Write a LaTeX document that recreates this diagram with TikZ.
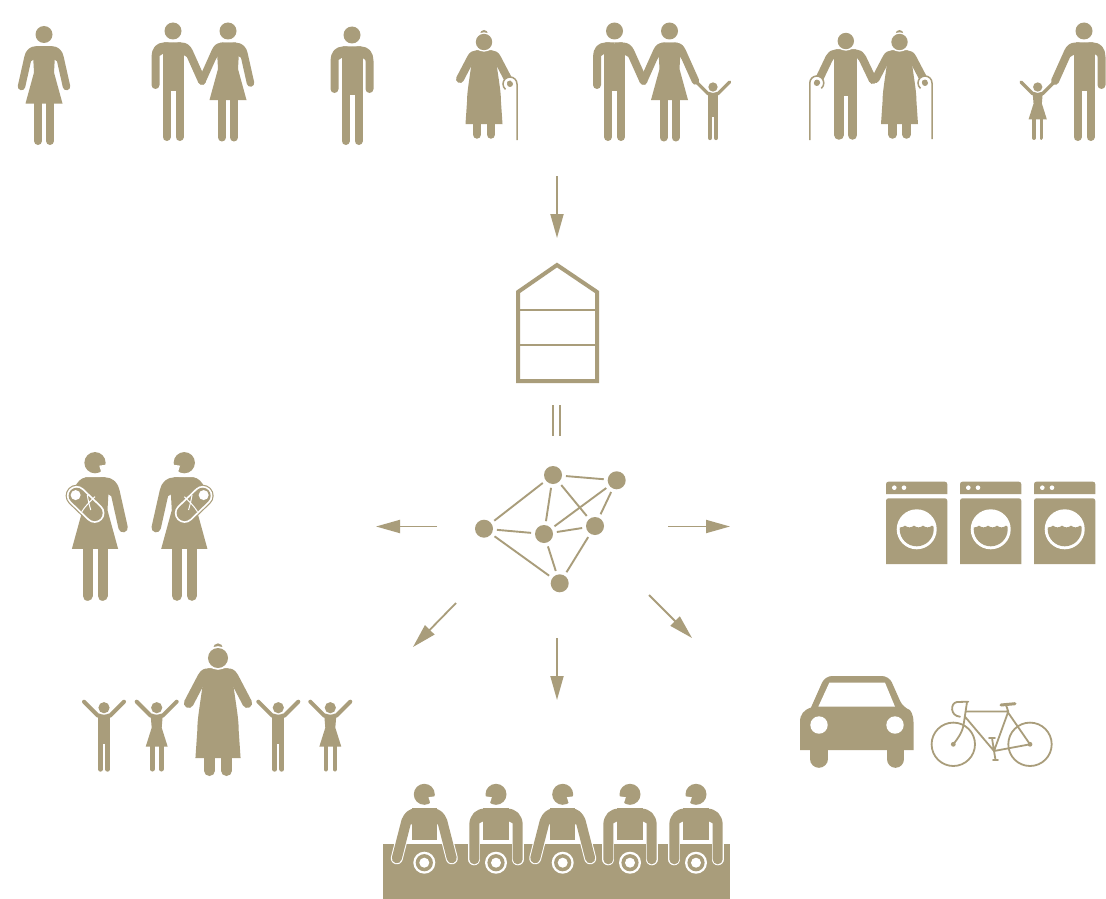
\documentclass[tikz,border=0pt]{standalone}
\usetikzlibrary{arrows.meta}
\definecolor{tn}{HTML}{A99D7B}
\def\fs{1}
\tikzset{
 ink/.style={fill=tn,draw=none},
 limb/.style={draw=tn,line cap=round,line join=round,line width=#1*\fs pt},
 flow/.style={draw=tn,line width=1.8pt,-{Triangle[length=24pt,width=13pt,fill=tn]}},
 netnode/.style={circle,fill=tn,minimum size=18pt,inner sep=0pt,outer sep=0pt},
 netedge/.style={draw=tn,line width=1.9pt,shorten >=4pt,shorten <=4pt},
 bikeline/.style={draw=tn,line width=1.8pt,line cap=round,line join=round},
}
\newcommand\Fig[4]{\begin{scope}[shift={(#1,#2)},scale=#3]\def\fs{#3}#4\end{scope}}
\newcommand\Hd{\fill[ink] (0,0) circle (8.5);}
\newcommand\ManB{\fill[ink] (-10.5,13) rectangle (10.5,60);
 \draw[limb=8] (-6.5,50)--(-6.5,106) (6.5,50)--(6.5,106);}
\newcommand\WomB{\fill[ink] (-8,11.75)--(8,11.75)--(11,20)--(10,38)--(18.5,69)--(-18.5,69)--(-10,38)--(-11,20)--cycle;
 \draw[limb=8] (-6,60)--(-6,106.5) (6,60)--(6,106.5);}
% arms; #1 = side
\newcommand\ArmS[1]{\begin{scope}[xscale=#1]
 \fill[ink] (0,11.5)--(9,11.5)--(17,18)--(13.5,25)--(10.5,23)--(0,23)--cycle;
 \draw[limb=8] (5,15.5)--(9,15.5) .. controls (14,15.5) and (17.5,19) .. (17.5,26)--(17.5,54);\end{scope}}
\newcommand\ArmH[1]{\begin{scope}[xscale=#1]
 \fill[ink] (0,11.5)--(8,11.5)--(16,20)--(14,26)--(10.5,24)--(0,24)--cycle;
 \draw[limb=8] (5,15.5)--(8,15.5) .. controls (12,15.5) and (14,17) .. (16,21)--(29,50);\end{scope}}
\newcommand\WArm[1]{\begin{scope}[xscale=#1]
 \fill[ink] (0,11.75)--(8,11.75)--(16,20)--(13.5,27)--(10,25)--(0,25)--cycle;
 \draw[limb=7.5] (5,15.5)--(8,15.5) .. controls (12,15.5) and (15,18) .. (16,23)--(22.5,52);\end{scope}}
\newcommand\WHold[1]{\begin{scope}[xscale=#1]
 \fill[ink] (0,11.75)--(6,11.75)--(13,21)--(13,29)--(10,25)--(0,25)--cycle;
 \draw[limb=7.5] (5,15.5)--(6,15.5) .. controls (10,15.5) and (11,17) .. (13,21)--(26,50);\end{scope}}
% elderly
\newcommand\OldLady{\fill[ink] (0,-8) circle (4);
 \fill[ink] (-8,9)--(8,9)--(12,18) .. controls (15,40) and (17,50) .. (17,60)--(18.5,82)--(-18.5,82)--(-17,60) .. controls (-17,50) and (-15,40) .. (-12,18)--cycle;
 \draw[limb=8.5] (-7,78)--(-7,92.5) (7,78)--(7,92.5);}
\newcommand\OldHeadRing{\fill[white] (0,0) circle (9.7);\fill[ink] (0,0) circle (8.2);}
\newcommand\OldArm[1]{\begin{scope}[xscale=#1]
 \fill[ink] (0,8.5)--(8,8.5)--(14,14)--(13,21)--(10,18)--(0,18)--cycle;
 \draw[limb=8] (6,12.5)--(8,12.5) .. controls (11,12.5) and (12,14) .. (13,16)--(24,37);\end{scope}}
\newcommand\OldManB{\fill[ink] (-11.5,11)--(11.5,11)--(11.5,55)--(-11.5,55)--cycle;
 \draw[limb=9.5] (-6.8,45)--(-6.8,94) (6.8,45)--(6.8,94);}
\newcommand\OldManArm[1]{\begin{scope}[xscale=#1]
 \fill[ink] (0,8.5)--(10,8.5)--(16,15)--(14.5,21)--(11.5,17)--(0,17)--cycle;
 \draw[limb=8] (6,12.5)--(10,12.5) .. controls (13,12.5) and (15,14) .. (16.5,17)--(27,39);\end{scope}}
% cane, #1 side, #2 #3 hook centre, #4 bottom relative
\newcommand\Cane[4]{\begin{scope}[xscale=#1,shift={(#2,#3)}]
 \draw[white,line width=3pt] (0,0) circle (5.2);
 \fill[ink] (0,0) circle (3);
 \draw[draw=tn,line width=1.5*\fs pt] (7,#4)--(7,0) arc[start angle=0,end angle=-230,radius=7];
 \end{scope}}
% children
\newcommand\Boy{\draw[limb=4] (-20,-6)--(-6,8)--(6,8)--(20,-6);
 \fill[ink] (-6,8) rectangle (6,36);
 \draw[limb=5] (-3.6,30)--(-3.6,61.5) (3.6,30)--(3.6,61.5);
 \fill[white] (0,0) circle (7);\fill[ink] (0,0) circle (5.6);}
\newcommand\Girl{\draw[limb=4] (-20,-6)--(-6,8)--(6,8)--(20,-6);
 \fill[ink] (-6,8)--(6,8)--(5,20)--(11,39)--(-11,39)--(-5,20)--cycle;
 \draw[limb=4.6] (-4.5,35)--(-4.5,61.5) (4.5,35)--(4.5,61.5);
 \fill[white] (0,0) circle (7);\fill[ink] (0,0) circle (5.6);}
% head with mouth; #1 radius, #2 side
\newcommand\MouthHead[2]{\begin{scope}[xscale=#2]\fill[ink] (0,0) circle (#1);
 \fill[white] (.4*#1,.28*#1)--(1.3*#1,.15*#1)--(.7*#1,1.25*#1)--cycle;\end{scope}}
% nursing mother
\newcommand\Nurse{\MouthHead{8.5}{1}\WomB\WArm{1}
 \fill[ink] (-7,11.75)--(0,11.75)--(0,40)--(-9,42)--(-16,20) .. controls (-15,16) and (-11,11.75) .. (-7,11.75)--cycle;
 \draw[tn,line cap=round,line width=22pt] (-14.7,26.4)--(-0.25,40.3);
 \draw[white,line cap=round,line width=19.6pt] (-14.7,26.4)--(-0.25,40.3);
 \draw[tn,line cap=round,line width=16pt] (-14.7,26.4)--(-0.25,40.3);
 \fill[white] (-15.5,25.9) circle (4);
 \draw[white,line width=1pt] (-6.2,25.8) .. controls (-5.5,30) and (-4.5,34) .. (-3.4,37.8)
   (0,27.2) .. controls (-4,31) and (-8,35) .. (-10.6,39.2);}
% seated people
\newcommand\SeatA[2]{\begin{scope}[shift={(#1,794.3)}]
 \foreach \sd in {-1,1}{\begin{scope}[xscale=\sd]
   \draw[white,line width=12pt,line cap=round] (18,27)--(27.5,64);
   \fill[ink] (0,14)--(8,14)--(20,22)--(14.5,30)--(12.7,30)--(0,30)--cycle;
   \draw[tn,line width=10pt,line cap=round,line join=round] (8,19) .. controls (13,19) and (16,22) .. (18,27)--(27.5,64);
 \end{scope}}
 \fill[ink] (-12.7,14) rectangle (12.7,45.7);
 \MouthHead{10.5}{#2}
 \fill[white] (0,68.4) circle (11);\fill[ink] (0,68.4) circle (8.6);\fill[white] (0,68.4) circle (5);
 \end{scope}}
\newcommand\SeatB[2]{\begin{scope}[shift={(#1,794.3)}]
 \foreach \sd in {-1,1}{\begin{scope}[xscale=\sd]
   \draw[white,line width=12pt,line cap=round] (21.7,30)--(21.7,65);
   \fill[ink] (0,14)--(10,14)--(20,22)--(16.7,29)--(12.7,27)--(0,27)--cycle;
   \draw[tn,line width=10pt,line cap=round,line join=round] (8,19)--(10,19) .. controls (17,19) and (21.7,23) .. (21.7,31)--(21.7,65);
 \end{scope}}
 \fill[ink] (-12.7,14) rectangle (12.7,45.7);
 \MouthHead{10.5}{#2}
 \fill[white] (0,68.4) circle (11);\fill[ink] (0,68.4) circle (8.6);\fill[white] (0,68.4) circle (5);
 \end{scope}}
\newcommand\Washer[1]{\begin{scope}[shift={(#1,481.7)}]
 \fill[ink] (0,12.3)--(0,2.5) .. controls (0,1) and (1,0) .. (2.5,0)--(58.8,0) .. controls (60.3,0) and (61.3,1) .. (61.3,2.5)--(61.3,12.3)--cycle;
 \fill[ink] (0,82.3)--(0,19.1) .. controls (0,17.6) and (1,16.6) .. (2.5,16.6)--(58.8,16.6) .. controls (60.3,16.6) and (61.3,17.6) .. (61.3,19.1)--(61.3,82.3)--cycle;
 \fill[white] (8.3,6) circle (2.3) (18,6) circle (2.3);
 \fill[white] (30.7,47.6) circle (20);
 \begin{scope}
  \clip (30.7,47.6) circle (17);
  \fill[ink] (10,44) .. controls (13,46.2) and (16,46.2) .. (19,44) .. controls (22,46.2) and (25,46.2) .. (28,44)
    .. controls (31,46.2) and (34,46.2) .. (37,44) .. controls (40,46.2) and (43,46.2) .. (46,44) .. controls (48,46.2) and (50,46.2) .. (52,44)--(52,70)--(10,70)--cycle;
 \end{scope}
 \end{scope}}
\begin{document}
\begin{tikzpicture}[x=1pt,y=-1pt]
\path[use as bounding box,fill=white] (0,0) rectangle (1106,899);
% top row
\Fig{44}{34.5}{1}{\Hd\WomB\WArm{1}\WArm{-1}}
\Fig{173}{31}{1}{\Hd\ManB\ArmS{-1}\ArmH{1}}
\Fig{228}{31}{1}{\Hd\WomB\WArm{1}\WHold{-1}}
\Fig{352}{35}{1}{\Hd\ManB\ArmS{-1}\ArmS{1}}
\Fig{484}{42}{1}{\OldLady\OldArm{-1}\OldArm{1}\OldHeadRing\Cane{1}{26}{42}{56}}
\Fig{614.5}{31}{1}{\Hd\ManB\ArmS{-1}\ArmH{1}}
\Fig{669.5}{31}{1}{\Hd\WomB\WHold{1}\WHold{-1}}
\Fig{713}{87}{.83}{\Boy}
\Fig{845.8}{41}{1}{\OldManB\OldManArm{-1}\OldManArm{1}\OldHeadRing\Cane{-1}{29}{42}{57}}
\Fig{899.5}{42}{1}{\OldLady\OldArm{-1}\OldArm{1}\OldHeadRing\Cane{1}{25.5}{41}{56}}
\Fig{1084}{31}{1}{\Hd\ManB\ArmS{1}\ArmH{-1}}
\Fig{1037.7}{87}{.83}{\Girl}
% flow coordinates
\coordinate (topS) at (557,176);\coordinate (topE) at (557,238);
\coordinate (leftS) at (437,526.5);\coordinate (leftE) at (376,526.5);
\coordinate (rightS) at (668,526.5);\coordinate (rightE) at (730,526.5);
\coordinate (dlS) at (456,603);\coordinate (dlE) at (413,647);
\coordinate (downS) at (557,638);\coordinate (downE) at (557,700);
\coordinate (drS) at (649,595);\coordinate (drE) at (692,638);
\foreach \a/\b in {topS/topE,leftS/leftE,rightS/rightE,dlS/dlE,downS/downE,drS/drE}{\draw[flow] (\a)--(\b);}
% house
\draw[tn,line width=4pt,line join=miter] (518,292)--(557,265)--(597,292)--(597,381)--(518,381)--cycle;
\draw[tn,line width=2pt] (518,310)--(597,310) (518,345)--(597,345);
\draw[tn,line width=2pt] (553,405)--(553,436) (560,405)--(560,436);
% network
\node[netnode] (na) at (484,528.7) {};
\node[netnode] (nb) at (553,475) {};
\node[netnode] (nc) at (616.7,480.3) {};
\node[netnode] (nd) at (544,534) {};
\node[netnode] (ne) at (595,526) {};
\node[netnode] (nf) at (559.7,583.3) {};
\foreach \a/\b in {na/nb,nb/nc,nb/nd,nb/ne,nc/nd,nc/ne,na/nd,nd/ne,na/nf,nd/nf,ne/nf}{\draw[netedge] (\a)--(\b);}
% nursing mothers
\Fig{95}{462.7}{1.25}{\Nurse}
\begin{scope}[shift={(184.3,462.7)},xscale=-1]\begin{scope}[scale=1.25]\def\fs{1.25}\Nurse\end{scope}\end{scope}
% grandmother and children
\Fig{218}{658}{1.22}{\OldLady\OldArm{-1}\OldArm{1}\OldHeadRing}
\Fig{104}{707.7}{1}{\Boy}
\Fig{156.7}{707.7}{1}{\Girl}
\Fig{278.3}{707.7}{1}{\Boy}
\Fig{330.3}{707.7}{1}{\Girl}
% table
\fill[ink] (383,844) rectangle (730,898.5);
\SeatA{424.3}{1}
\SeatB{496}{-1}
\SeatA{562.7}{1}
\SeatB{630}{-1}
\SeatB{696}{-1}
% washers
\Washer{886}\Washer{960}\Washer{1034}
% car
\draw[tn,line width=17.6pt,line cap=round] (818.8,745)--(818.8,759) (895.5,745)--(895.5,759);
\fill[ink] (800,750)--(800,722) .. controls (800,714) and (804,710) .. (811,707.5)
  [rounded corners=7pt]--(825,676)--(889,676)--(903,707.5)[sharp corners]
  .. controls (910,710) and (913.5,714) .. (913.5,722)--(913.5,750)--cycle;
\fill[white] (818.3,706.7)--(829.3,682.7)--(885,682.7)--(895,706.7)--cycle;
\fill[white] (819,725) circle (8.7) (895,725) circle (8.7);
% bicycle
\draw[bikeline] (953.3,744.3) circle (21.7) (1030,744.3) circle (21.7);
\fill[ink] (953.3,744.3) circle (2.4) (1030,744.3) circle (2.4);
\draw[bikeline] (966.5,711.5)--(1008.3,711.5)--(994,751)--(965,716.7)
  (1007,711)--(1030,744.3)--(994,751)
  (1006,705)--(1008.3,711.5)
  (968.3,701.7)--(957,702) .. controls (950,703) and (950,716) .. (960,716.7)
  (967,702)--(964,722) .. controls (963,732) and (958,738) .. (953.3,744.3)
  (994,751)--(992,738) (989,738)--(995,738)
  (994,751)--(995.5,760) (993,760)--(998,760);
\draw[tn,line width=3pt,line cap=round] (1001,705)--(1015,703.7);
\end{tikzpicture}
\end{document}
